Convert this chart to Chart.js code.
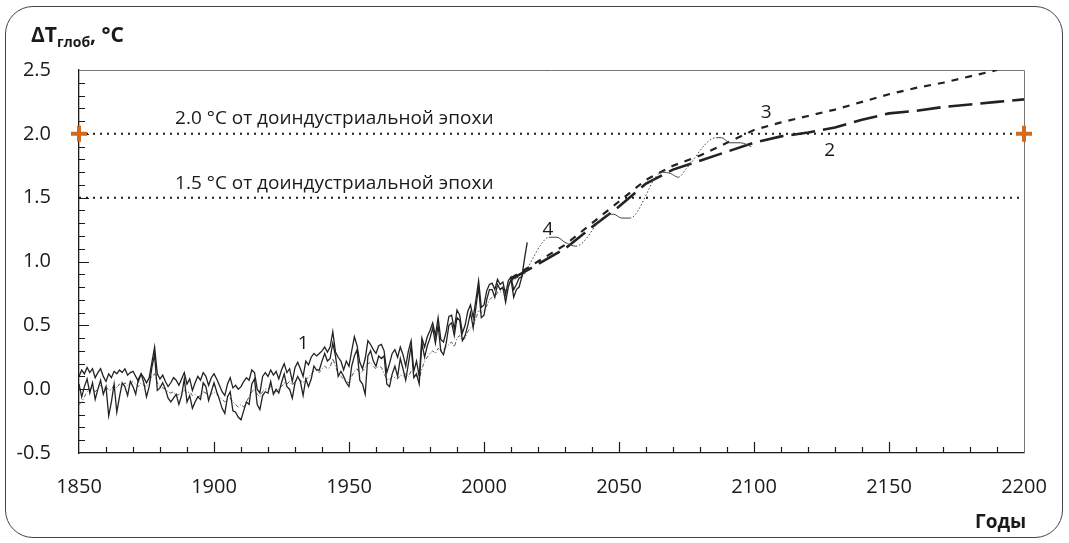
<!DOCTYPE html>
<html>
<head>
<meta charset="utf-8">
<script src="https://cdn.jsdelivr.net/npm/chart.js@4.4.1/dist/chart.umd.min.js"></script>
<style>
  html, body { margin: 0; padding: 0; background: #fff; }
  #wrap { position: relative; width: 1069px; height: 543px; font-family: "Open Sans", sans-serif; color: #1a1a1a; }
  #frame { position: absolute; left: 5px; top: 6px; width: 1056px; height: 530px; border: 1px solid #444; border-radius: 28px; }
  #chart { position: absolute; left: 0; top: 0; }
  .ttl { position: absolute; left: 31px; top: 20px; font-weight: 700; font-size: 21px; white-space: nowrap; }
  .ttl sub { font-size: 14px; vertical-align: -5px; }
  .xname { position: absolute; left: 975px; top: 508px; font-weight: 700; font-size: 19px; }
</style>
</head>
<body>
<div id="wrap">
  <div id="frame"></div>
  <canvas id="chart" width="1069" height="543"></canvas>
  <div class="ttl">ΔT<sub>глоб</sub>, °C</div>
  <div class="xname">Годы</div>
</div>
<script>
// observed records (1), one value per year starting in 1850
const obsStartYear = 1850;
const obsA = [
  0.10, 0.15, 0.12, 0.17, 0.13, 0.16, 0.09, 0.13, 0.16, 0.10,
  0.06, 0.12, 0.09, 0.14, 0.12, 0.15, 0.13, 0.16, 0.11, 0.13,
  0.14, 0.10, 0.06, 0.12, 0.09, 0.05, 0.09, 0.21, 0.33, 0.12,
  0.08, 0.11, 0.06, 0.02, 0.05, 0.09, 0.07, 0.03, 0.08, 0.13,
  0.04, 0.08, -0.01, 0.05, 0.10, 0.07, 0.13, 0.10, 0.03, 0.09,
  0.12, 0.08, 0.03, -0.02, -0.05, 0.04, 0.09, 0.01, 0.03, 0.00,
  0.02, 0.06, 0.09, 0.07, 0.15, 0.13, 0.00, -0.03, 0.10, 0.13,
  0.10, 0.15, 0.11, 0.14, 0.08, 0.15, 0.20, 0.13, 0.16, 0.06,
  0.17, 0.21, 0.16, 0.10, 0.22, 0.19, 0.25, 0.28, 0.26, 0.28,
  0.30, 0.33, 0.29, 0.33, 0.45, 0.29, 0.25, 0.22, 0.15, 0.22,
  0.18, 0.30, 0.41, 0.34, 0.21, 0.16, 0.24, 0.38, 0.35, 0.31,
  0.28, 0.34, 0.35, 0.30, 0.13, 0.20, 0.28, 0.31, 0.25, 0.33,
  0.27, 0.18, 0.30, 0.38, 0.14, 0.22, 0.10, 0.40, 0.33, 0.41,
  0.46, 0.52, 0.42, 0.56, 0.39, 0.37, 0.45, 0.57, 0.58, 0.47,
  0.62, 0.58, 0.44, 0.50, 0.61, 0.66, 0.56, 0.70, 0.85, 0.64,
  0.66, 0.77, 0.82, 0.83, 0.78, 0.86, 0.82, 0.84, 0.74, 0.85,
  0.88, 0.78, 0.82, 0.87, 0.88, 1.02, 1.15
];
const obsB = [
  0.04, -0.06, 0.02, 0.08, -0.03, 0.05, -0.08, 0.00, 0.07, -0.04,
  0.02, -0.21, -0.10, 0.04, -0.18, -0.06, 0.05, 0.02, -0.05, 0.06,
  0.02, -0.04, 0.08, 0.12, 0.05, -0.06, 0.02, 0.17, 0.27, -0.01,
  0.01, 0.05, 0.00, -0.07, -0.10, -0.07, -0.04, -0.12, -0.05, 0.08,
  -0.10, -0.05, -0.15, -0.10, -0.06, -0.08, 0.05, 0.02, -0.09, -0.02,
  0.05, -0.02, -0.08, -0.15, -0.19, -0.06, -0.02, -0.17, -0.18, -0.22,
  -0.24, -0.17, -0.10, -0.12, 0.04, 0.08, -0.12, -0.16, -0.05, -0.02,
  -0.03, 0.06, -0.04, 0.00, -0.03, 0.05, 0.12, 0.02, 0.00, -0.07,
  0.05, 0.10, 0.06, -0.05, 0.08, 0.02, 0.08, 0.18, 0.15, 0.15,
  0.22, 0.28, 0.22, 0.24, 0.36, 0.26, 0.10, 0.14, 0.10, 0.05,
  0.02, 0.18, 0.26, 0.31, 0.07, 0.04, -0.04, 0.26, 0.30, 0.22,
  0.18, 0.26, 0.24, 0.26, 0.04, 0.02, 0.12, 0.18, 0.10, 0.24,
  0.16, 0.07, 0.20, 0.34, 0.09, 0.12, 0.04, 0.36, 0.25, 0.34,
  0.40, 0.48, 0.36, 0.50, 0.30, 0.27, 0.36, 0.50, 0.52, 0.42,
  0.56, 0.54, 0.38, 0.42, 0.50, 0.60, 0.48, 0.64, 0.80, 0.56,
  0.58, 0.70, 0.78, 0.78, 0.72, 0.82, 0.78, 0.80, 0.68, 0.80,
  0.86, 0.72, 0.78, 0.80, 0.88, 0.94
];
const obsC = [
  -0.12, -0.10, -0.06, -0.02, 0.00, 0.02, -0.02, 0.00, 0.03, 0.00,
  0.02, -0.01, 0.00, 0.03, 0.01, 0.04, 0.02, 0.05, 0.03, 0.05,
  0.06, 0.04, 0.02, 0.05, 0.03, 0.02, 0.05, 0.10, 0.12, 0.05,
  0.02, 0.01, 0.00, -0.02, -0.03, -0.02, -0.05, -0.04, -0.03, -0.01,
  -0.03, -0.02, -0.05, -0.04, -0.06, -0.05, -0.02, -0.03, -0.06, -0.04,
  -0.02, -0.04, -0.06, -0.08, -0.10, -0.08, -0.07, -0.10, -0.12, -0.14,
  -0.12, -0.14, -0.10, -0.06, -0.02, 0.00, -0.04, -0.06, -0.02, 0.00,
  0.00, 0.02, -0.02, -0.02, 0.00, 0.02, 0.05, 0.04, 0.06, 0.03,
  0.06, 0.08, 0.07, 0.05, 0.08, 0.09, 0.12, 0.14, 0.15, 0.13,
  0.16, 0.18, 0.16, 0.17, 0.24, 0.18, 0.12, 0.10, 0.08, 0.06,
  0.05, 0.10, 0.14, 0.16, 0.12, 0.14, 0.17, 0.20, 0.21, 0.18,
  0.16, 0.18, 0.17, 0.12, 0.08, 0.07, 0.10, 0.09, 0.08, 0.11,
  0.10, 0.12, 0.10, 0.14, 0.12, 0.10, 0.08, 0.16, 0.22, 0.25,
  0.28, 0.30, 0.28, 0.32, 0.30, 0.31, 0.33, 0.35, 0.37, 0.33,
  0.40, 0.42, 0.38, 0.40, 0.45, 0.48, 0.50, 0.55, 0.62, 0.60,
  0.62, 0.65, 0.70, 0.72, 0.72, 0.76, 0.76, 0.78, 0.78, 0.82,
  0.85, 0.85, 0.87, 0.88
];

// projection 2 (long dash)
const proj2Years = [2010, 2020, 2030, 2040, 2050, 2060, 2070, 2080, 2090, 2100,
                    2110, 2120, 2130, 2140, 2150, 2160, 2170, 2180, 2190, 2200];
const proj2 = [0.86, 0.98, 1.10, 1.27, 1.43, 1.61, 1.72, 1.79, 1.86, 1.93,
               1.98, 2.01, 2.05, 2.11, 2.16, 2.18, 2.21, 2.23, 2.25, 2.27];

// projection 3 (short dash)
const proj3Years = [2010, 2020, 2030, 2040, 2050, 2060, 2070, 2080, 2090, 2100,
                    2110, 2120, 2130, 2140, 2150, 2160, 2170, 2180, 2190];
const proj3 = [0.87, 1.00, 1.13, 1.30, 1.47, 1.64, 1.75, 1.83, 1.93, 2.03,
               2.09, 2.14, 2.19, 2.25, 2.31, 2.36, 2.40, 2.45, 2.50];

// projection 4 (thin wavy line)
const proj4Years = [2015, 2018, 2021, 2024, 2027, 2030, 2034, 2045, 2048, 2051,
                    2054, 2066, 2069, 2072, 2075, 2086, 2088, 2091, 2095, 2099];
const proj4 = [0.90, 1.02, 1.13, 1.19, 1.19, 1.15, 1.12, 1.36, 1.37, 1.34,
               1.34, 1.70, 1.69, 1.66, 1.73, 1.97, 1.97, 1.93, 1.93, 1.90];

// reference levels and axis ranges
const refLevels = [2.0, 1.5];
const xRange = [1850, 2200];
const yRange = [-0.5, 2.5];

const INK = '#1a1a1a';
const ORANGE = '#d4691c';

const byYear = vals => vals.map((v, i) => ({ x: obsStartYear + i, y: v }));
const zip = (xs, ys) => xs.map((x, i) => ({ x: x, y: ys[i] }));

Chart.defaults.font.family = '"Open Sans", sans-serif';
Chart.defaults.font.size = 20;
Chart.defaults.color = INK;

const refSets = refLevels.map(lv => ({
  data: zip(xRange, [lv, lv]),
  borderColor: INK, borderWidth: 2, borderDash: [2, 5],
  pointRadius: 0, order: 10
}));

// frame, inner ticks and text annotations
const decorations = {
  id: 'decorations',
  beforeDatasetsDraw(chart) {
    const { ctx, chartArea: a, scales: { x, y } } = chart;
    ctx.save();
    ctx.strokeStyle = '#777';
    ctx.lineWidth = 1;
    ctx.beginPath();
    ctx.moveTo(a.left, a.top + 0.5);
    ctx.lineTo(a.right + 0.5, a.top + 0.5);
    ctx.lineTo(a.right + 0.5, a.bottom);
    ctx.stroke();

    ctx.strokeStyle = INK;
    ctx.lineWidth = 1.2;
    ctx.beginPath();
    for (let yr = xRange[0] + 10; yr < xRange[1]; yr += 10) {
      const px = Math.round(x.getPixelForValue(yr)) + 0.5;
      const len = yr % 50 === 0 ? 11 : 6;
      ctx.moveTo(px, a.bottom);
      ctx.lineTo(px, a.bottom - len);
    }
    for (let k = -4; k < 25; k++) {
      const py = Math.round(y.getPixelForValue(k / 10)) + 0.5;
      const len = k % 5 === 0 ? 10 : 6;
      ctx.moveTo(a.left, py);
      ctx.lineTo(a.left + len, py);
    }
    ctx.stroke();

    ctx.fillStyle = INK;
    ctx.textBaseline = 'middle';
    ctx.font = '19px "Open Sans", sans-serif';
    ctx.textAlign = 'left';
    ctx.fillText('2.0 °C от доиндустриальной эпохи', x.getPixelForValue(1885.6), y.getPixelForValue(2.12));
    ctx.fillText('1.5 °C от доиндустриальной эпохи', x.getPixelForValue(1885.6), y.getPixelForValue(1.61));
    ctx.textAlign = 'center';
    ctx.fillText('1', x.getPixelForValue(1933), y.getPixelForValue(0.36));
    ctx.fillText('2', x.getPixelForValue(2128), y.getPixelForValue(1.87));
    ctx.fillText('3', x.getPixelForValue(2104.5), y.getPixelForValue(2.17));
    ctx.fillText('4', x.getPixelForValue(2023.7), y.getPixelForValue(1.25));
    ctx.restore();
  }
};

new Chart(document.getElementById('chart'), {
  type: 'line',
  data: {
    datasets: [
      ...refSets,
      { data: byYear(obsC), borderColor: '#555', borderWidth: 1, borderDash: [4, 2, 1, 2], pointRadius: 0, order: 9 },
      { data: byYear(obsB), borderColor: '#222', borderWidth: 1.3, pointRadius: 0, order: 8 },
      { data: byYear(obsA), borderColor: '#222', borderWidth: 1.3, pointRadius: 0, order: 7 },
      { data: zip(proj2Years, proj2), borderColor: '#222', borderWidth: 2.6, borderDash: [24, 8], pointRadius: 0, order: 6 },
      { data: zip(proj3Years, proj3), borderColor: '#222', borderWidth: 2.2, borderDash: [7, 7], pointRadius: 0, order: 5 },
      {
        data: zip(proj4Years, proj4), borderColor: '#444', borderWidth: 1, pointRadius: 0,
        cubicInterpolationMode: 'monotone', order: 4,
        segment: {
          borderDash: c => Math.abs((c.p1.parsed.y - c.p0.parsed.y) / (c.p1.parsed.x - c.p0.parsed.x)) > 0.015 ? [1.5, 2] : undefined
        }
      },
      {
        data: zip(xRange, [refLevels[0], refLevels[0]]), showLine: false,
        pointStyle: 'cross', pointRadius: 8, pointBorderWidth: 4,
        pointBorderColor: ORANGE, pointBackgroundColor: ORANGE, clip: false, order: 1
      }
    ]
  },
  options: {
    responsive: false,
    animation: false,
    parsing: true,
    layout: { padding: { left: 0, right: 45, top: 70, bottom: 0 } },
    plugins: { legend: { display: false }, tooltip: { enabled: false } },
    scales: {
      x: {
        type: 'linear', min: xRange[0], max: xRange[1],
        grid: { display: false },
        border: { display: true, color: INK, width: 1.3 },
        ticks: { stepSize: 50, padding: 14, maxRotation: 0, callback: v => String(v) },
        afterFit: s => { s.height = 90; }
      },
      y: {
        min: yRange[0], max: yRange[1],
        grid: { display: false },
        border: { display: true, color: INK, width: 1.3 },
        ticks: { stepSize: 0.5, padding: 20, callback: v => v.toFixed(1) },
        afterFit: s => { s.width = 79; }
      }
    }
  },
  plugins: [decorations]
});
</script>
</body>
</html>
